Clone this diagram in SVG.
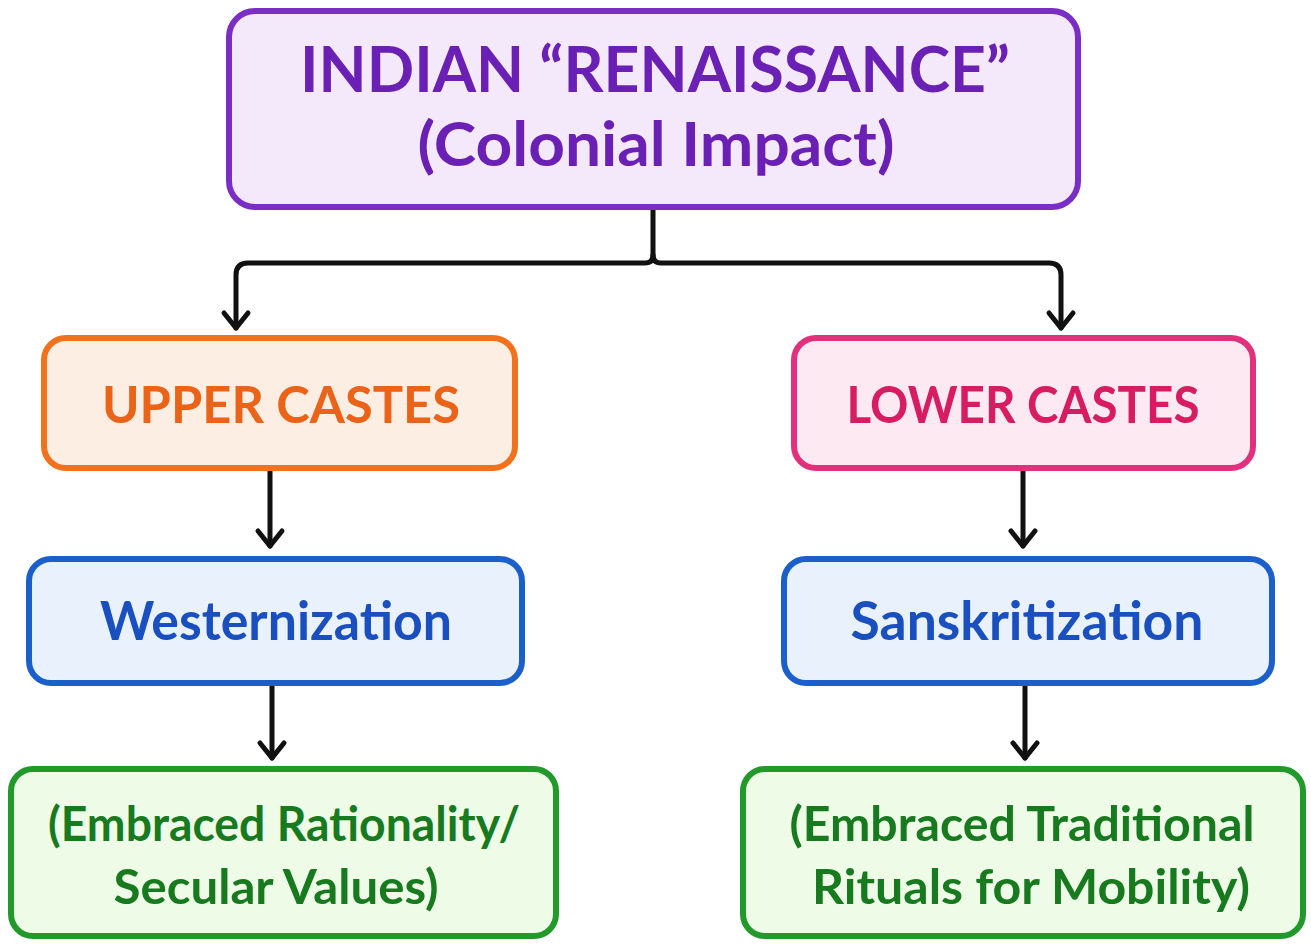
<svg xmlns="http://www.w3.org/2000/svg" width="1311" height="946" viewBox="0 0 1311 946">
<style>
.box{stroke-width:6;}
.t{font-family:"Lato","Noto Sans",sans-serif;font-weight:bold;text-anchor:middle;}
.conn{fill:none;stroke:#111;stroke-width:5;stroke-linecap:round;stroke-linejoin:round;}
</style>
<defs>
<marker id="arr" markerUnits="userSpaceOnUse" markerWidth="40" markerHeight="40" viewBox="-20 -20 40 40" refX="0" refY="0" orient="auto" overflow="visible">
<path d="M-15,-12 L0,0 L-15,12" fill="none" stroke="#111" stroke-width="5" stroke-linecap="round" stroke-linejoin="round"/>
</marker>
</defs>
<rect width="1311" height="946" fill="#ffffff"/>
<g id="connectors">
<path class="conn" d="M653,207 V255 Q653,263 645,263 H248 Q236,263 236,275 V328" marker-end="url(#arr)"/>
<path class="conn" d="M653,255 Q653,263 661,263 H1049 Q1061,263 1061,275 V328" marker-end="url(#arr)"/>
<path class="conn" d="M270,470 V546" marker-end="url(#arr)"/>
<path class="conn" d="M272,686 V758" marker-end="url(#arr)"/>
<path class="conn" d="M1023,470 V546" marker-end="url(#arr)"/>
<path class="conn" d="M1025,686 V758" marker-end="url(#arr)"/>
</g>
<g id="root">
<rect class="box" x="229" y="11" width="849" height="196" rx="26" fill="#f4e9fb" stroke="#7a2ec6"/>
<text class="t" x="655" y="92" font-size="64" fill="#6a20b4" textLength="710" lengthAdjust="spacingAndGlyphs">INDIAN “RENAISSANCE”</text>
<text class="t" x="656" y="166" font-size="62" fill="#6a20b4" textLength="477" lengthAdjust="spacingAndGlyphs">(Colonial Impact)</text>
</g>
<g id="upper">
<rect class="box" x="44" y="338" width="471" height="130" rx="22" fill="#fdeee3" stroke="#f2711c"/>
<text class="t" x="281" y="423" font-size="52" fill="#ea6318" textLength="358" lengthAdjust="spacingAndGlyphs">UPPER CASTES</text>
</g>
<g id="lower">
<rect class="box" x="794" y="338" width="459" height="130" rx="22" fill="#fde9f1" stroke="#e2307c"/>
<text class="t" x="1023" y="423" font-size="52" fill="#d81c62" textLength="353" lengthAdjust="spacingAndGlyphs">LOWER CASTES</text>
</g>
<g id="western">
<rect class="box" x="29" y="559" width="493" height="124" rx="22" fill="#e9f2fc" stroke="#1b5fcb"/>
<text class="t" x="276" y="640" font-size="54" fill="#1a4fbf" textLength="352" lengthAdjust="spacingAndGlyphs">Westernization</text>
</g>
<g id="sanskrit">
<rect class="box" x="784" y="559" width="488" height="124" rx="22" fill="#e9f2fc" stroke="#1b5fcb"/>
<text class="t" x="1027" y="640" font-size="54" fill="#1a4fbf" textLength="353" lengthAdjust="spacingAndGlyphs">Sanskritization</text>
</g>
<g id="rational">
<rect class="box" x="11" y="769" width="545" height="167" rx="22" fill="#eefbe7" stroke="#21992b"/>
<text class="t" x="284" y="841" font-size="48" fill="#177a1f" textLength="472" lengthAdjust="spacingAndGlyphs">(Embraced Rationality/</text>
<text class="t" x="276" y="904" font-size="48" fill="#177a1f" textLength="325" lengthAdjust="spacingAndGlyphs">Secular Values)</text>
</g>
<g id="traditional">
<rect class="box" x="743" y="769" width="560" height="167" rx="22" fill="#eefbe7" stroke="#21992b"/>
<text class="t" x="1022" y="841" font-size="48" fill="#177a1f" textLength="465" lengthAdjust="spacingAndGlyphs">(Embraced Traditional</text>
<text class="t" x="1031" y="904" font-size="48" fill="#177a1f" textLength="438" lengthAdjust="spacingAndGlyphs">Rituals for Mobility)</text>
</g>
</svg>
